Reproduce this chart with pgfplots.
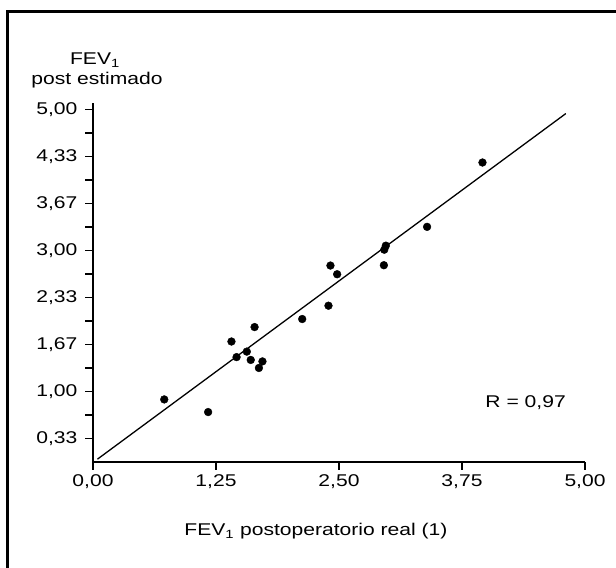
\documentclass[border=0pt]{standalone}
\usepackage{fontspec}
\setmainfont{Liberation Sans}
\usepackage{pgfplots}
\pgfplotsset{compat=1.18}

\newcommand{\lab}{\fontsize{17bp}{20bp}\selectfont}

\begin{document}
\begin{tikzpicture}[x=1bp,y=1bp]
\path[use as bounding box] (0,0) rectangle (616,568);
% frame of the figure
\draw[line width=2.7bp] (7.7,0) -- (7.7,556.7) -- (616,556.7);

\begin{axis}[
  at={(93bp,106bp)}, anchor=south west,
  scale only axis, width=492bp, height=359bp,
  xmin=0, xmax=5, ymin=0, ymax=5.09,
  axis x line=bottom, axis y line=left,
  axis line style={-, line width=2bp},
  tick align=outside,
  xtick pos=bottom, ytick pos=left,
  major tick length=8bp, minor tick length=8bp,
  tick style={line width=1.6bp, black},
  xtick={0,1.25,2.5,3.75,5},
  xticklabels={{0,00},{1,25},{2,50},{3,75},{5,00}},
  ytick={0.3333,1,1.6667,2.3333,3,3.6667,4.3333,5},
  yticklabels={{0,33},{1,00},{1,67},{2,33},{3,00},{3,67},{4,33},{5,00}},
  minor ytick={0.6667,1.3333,2,2.6667,3.3333,4,4.6667},
  xticklabel style={font=\lab, xscale=1.24, inner sep=0pt, yshift=-4bp},
  yticklabel style={font=\lab, xscale=1.24, inner sep=0pt, xshift=-6bp},
  clip=false,
]
% fitted line
\addplot[black, line width=1.3bp] coordinates {(0.045,0.04) (4.805,4.94)};
% patients
\addplot[only marks, mark=*, mark size=3.9bp, black] coordinates {
  (0.724,0.887) (1.170,0.708) (1.407,1.708) (1.459,1.487) (1.563,1.565)
  (1.642,1.913) (1.603,1.447) (1.686,1.333) (1.722,1.426) (2.126,2.027)
  (2.393,2.216) (2.413,2.785) (2.481,2.662) (2.956,2.790) (2.960,3.010)
  (2.976,3.067) (3.395,3.334) (3.958,4.246)
};
\end{axis}

\node[anchor=base, font=\lab, xscale=1.24, inner sep=0pt] at (95,503) {FEV\textsubscript{1}};
\node[anchor=base, font=\lab, xscale=1.24, inner sep=0pt] at (97,483) {post estimado};
\node[anchor=base, font=\lab, xscale=1.24, inner sep=0pt] at (316,32) {FEV\textsubscript{1} postoperatorio real (1)};
\node[anchor=base east, font=\lab, xscale=1.24, inner sep=0pt] at (566,160.5) {R = 0,97};
\end{tikzpicture}
\end{document}
